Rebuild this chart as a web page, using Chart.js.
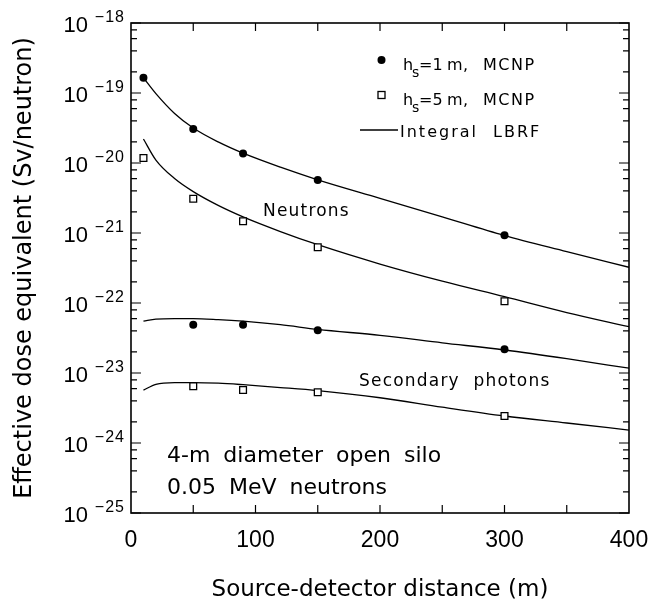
<!DOCTYPE html>
<html><head><meta charset="utf-8">
<script src="https://cdn.jsdelivr.net/npm/chart.js@4.4.0/dist/chart.umd.min.js"></script>
<style>html,body{margin:0;padding:0;background:#fff;}</style>
</head><body>
<canvas id="c" width="648" height="605"></canvas>
<script>
// ---- data ----
const mcnpDistances   = [10, 50, 90, 150, 300];
const neutronH1MCNP   = [1.65e-19, 3.06e-20, 1.37e-20, 5.7e-21, 9.3e-22];
const neutronH5MCNP   = [1.18e-20, 3.09e-21, 1.47e-21, 6.25e-22, 1.06e-22];
const photonDistances = [50, 90, 150, 300];
const photonH1MCNP    = [4.9e-23, 4.9e-23, 4.07e-23, 2.18e-23];
const photonH5MCNP    = [6.45e-24, 5.72e-24, 5.3e-24, 2.43e-24];

const curveDistances  = [10, 20, 35, 50, 70, 90, 120, 150, 200, 250, 300, 350, 400];
const neutronH1LBRF   = [1.65e-19, 9.8e-20, 5.1e-20, 3.16e-20, 2.0e-20, 1.38e-20, 8.7e-21, 5.75e-21, 3.13e-21, 1.7e-21, 9.2e-22, 5.43e-22, 3.24e-22];
const neutronH5LBRF   = [2.2e-20, 1.1e-20, 6.0e-21, 3.9e-21, 2.48e-21, 1.7e-21, 1.05e-21, 6.8e-22, 3.6e-22, 2.05e-22, 1.23e-22, 7.3e-23, 4.58e-23];
const photonH1LBRF    = [5.5e-23, 5.9e-23, 6.0e-23, 6.0e-23, 5.8e-23, 5.5e-23, 4.9e-23, 4.2e-23, 3.45e-23, 2.7e-23, 2.13e-23, 1.6e-23, 1.17e-23];
const photonH5LBRF    = [5.7e-24, 6.9e-24, 7.3e-24, 7.3e-24, 7.15e-24, 6.8e-24, 6.2e-24, 5.6e-24, 4.43e-24, 3.25e-24, 2.43e-24, 1.93e-24, 1.53e-24];

const xTickValues     = [0, 100, 200, 300, 400];
const xMinorValues    = [50, 100, 150, 200, 250, 300, 350];
const yTickExponents  = [-25, -24, -23, -22, -21, -20, -19, -18];
const yMinorMantissas = [2, 4, 6, 8];

const legendRows = [
  {sub: 's', pre: 'h', eq: '=1', unit: 'm,', src: 'MCNP'},
  {sub: 's', pre: 'h', eq: '=5', unit: 'm,', src: 'MCNP'}
];
const legendLineLabel = ['Integral', 'LBRF'];
// ---------------------------------------

const toXY = (xs, ys) => xs.map((x, i) => ({x: x, y: ys[i]}));

function pointSet(label, xs, ys, filled) {
  return {
    label: label, data: toXY(xs, ys), showLine: false,
    pointStyle: filled ? 'circle' : 'rect',
    pointRadius: filled ? 4 : 4.8,
    pointHoverRadius: filled ? 4 : 4.8,
    pointBackgroundColor: filled ? '#000' : '#fff',
    pointBorderColor: '#000',
    pointBorderWidth: filled ? 0 : 1.3,
    order: 1
  };
}
function curveSet(label, ys) {
  return {
    label: label, data: toXY(curveDistances, ys), showLine: true,
    pointRadius: 0, borderColor: '#000', borderWidth: 1.3,
    cubicInterpolationMode: 'monotone', fill: false, order: 2
  };
}

function txt(ctx, s, x, y, font, opt) {
  opt = opt || {};
  ctx.save();
  ctx.font = font;
  ctx.fillStyle = '#000';
  ctx.textAlign = opt.align || 'left';
  ctx.textBaseline = 'alphabetic';
  if ('letterSpacing' in ctx) ctx.letterSpacing = (opt.ls || 0) + 'px';
  if ('wordSpacing' in ctx) ctx.wordSpacing = (opt.ws || 0) + 'px';
  ctx.fillText(s, x, y);
  ctx.restore();
}

const decor = {
  id: 'decor',
  afterDraw(chart) {
    const ctx = chart.ctx;
    const xs = chart.scales.x, ys = chart.scales.y;
    const a = chart.chartArea;
    ctx.save();
    ctx.strokeStyle = '#000';
    ctx.lineWidth = 1.6;
    ctx.strokeRect(a.left, a.top, a.right - a.left, a.bottom - a.top);
    ctx.lineWidth = 1.2;
    ctx.beginPath();
    xMinorValues.forEach(v => {
      const p = xs.getPixelForValue(v);
      ctx.moveTo(p, a.bottom); ctx.lineTo(p, a.bottom - 8);
      ctx.moveTo(p, a.top); ctx.lineTo(p, a.top + 8);
    });
    yTickExponents.forEach(e => {
      [1].concat(yMinorMantissas).forEach(m => {
        const v = m * Math.pow(10, e);
        if (v > 1.0001e-18) return;
        const p = ys.getPixelForValue(v);
        const len = m === 1 ? 10 : 6;
        ctx.moveTo(a.left, p); ctx.lineTo(a.left + len, p);
        ctx.moveTo(a.right, p); ctx.lineTo(a.right - len, p);
      });
    });
    ctx.stroke();
    ctx.restore();

    // y tick labels 10^e
    yTickExponents.forEach(e => {
      const p = ys.getPixelForValue(Math.pow(10, e));
      txt(ctx, '\u2212' + Math.abs(e), a.left - 6, p - 1, '16px "Liberation Sans"', {align: 'right', ls: 1});
      txt(ctx, '10', a.left - 43, p + 9, '22px "Liberation Sans"', {align: 'right'});
    });

    // annotations
    txt(ctx, 'Neutrons', 263, 216, '17px "DejaVu Sans"', {ls: 1.2});
    txt(ctx, 'Secondary photons', 359, 386, '17px "DejaVu Sans"', {ls: 1.2, ws: 7});
    txt(ctx, '4-m diameter open silo', 167, 462, '22px "DejaVu Sans"', {ws: 6});
    txt(ctx, '0.05 MeV neutrons', 167, 494, '22px "DejaVu Sans"', {ws: 6});

    // legend
    const lf = '16px "DejaVu Sans"';
    const baselines = [70, 105];
    legendRows.forEach((r, i) => {
      const b = baselines[i];
      txt(ctx, r.pre, 403, b, lf);
      txt(ctx, r.sub, 412, b + 7, '14px "DejaVu Sans"');
      txt(ctx, r.eq, 419, b, lf);
      txt(ctx, r.unit, 447, b, lf, {ls: 0.5});
      txt(ctx, r.src, 483, b, lf, {ls: 1.5});
    });
    ctx.save();
    ctx.fillStyle = '#000';
    ctx.beginPath(); ctx.arc(381.5, 60, 4, 0, Math.PI * 2); ctx.fill();
    ctx.strokeStyle = '#000'; ctx.lineWidth = 1.3;
    ctx.strokeRect(378, 91.5, 7, 7);
    ctx.lineWidth = 1.3;
    ctx.beginPath(); ctx.moveTo(360, 130); ctx.lineTo(398, 130); ctx.stroke();
    ctx.restore();
    txt(ctx, legendLineLabel[0], 400, 137, lf, {ls: 2});
    txt(ctx, legendLineLabel[1], 493, 137, lf, {ls: 2});
  }
};

new Chart(document.getElementById('c'), {
  type: 'scatter',
  data: {
    datasets: [
      pointSet('h_s=1 m, MCNP neutrons', mcnpDistances, neutronH1MCNP, true),
      pointSet('h_s=5 m, MCNP neutrons', mcnpDistances, neutronH5MCNP, false),
      pointSet('h_s=1 m, MCNP photons', photonDistances, photonH1MCNP, true),
      pointSet('h_s=5 m, MCNP photons', photonDistances, photonH5MCNP, false),
      curveSet('Integral LBRF h_s=1 m neutrons', neutronH1LBRF),
      curveSet('Integral LBRF h_s=5 m neutrons', neutronH5LBRF),
      curveSet('Integral LBRF h_s=1 m photons', photonH1LBRF),
      curveSet('Integral LBRF h_s=5 m photons', photonH5LBRF)
    ]
  },
  options: {
    responsive: false,
    animation: false,
    devicePixelRatio: 1,
    layout: {padding: {left: 0, right: 19, top: 23, bottom: 0}},
    plugins: {legend: {display: false}, tooltip: {enabled: false}},
    scales: {
      x: {
        type: 'linear', position: 'bottom', min: 0, max: 400,
        afterFit: s => { s.height = 92; s.paddingLeft = 0; s.paddingRight = 0; },
        afterBuildTicks: s => { s.ticks = xTickValues.map(v => ({value: v})); },
        ticks: {font: {family: 'Liberation Sans', size: 23}, color: '#000', padding: 14, maxRotation: 0, autoSkip: false},
        grid: {display: false, drawTicks: false},
        border: {display: false},
        title: {display: true, text: 'Source-detector distance (m)', color: '#000',
                font: {family: 'DejaVu Sans', size: 23}, padding: {top: 0, bottom: 1}}
      },
      y: {
        type: 'logarithmic', position: 'left', min: 1e-25, max: 1e-18,
        afterFit: s => { s.width = 131; s.paddingTop = 0; s.paddingBottom = 0; },
        ticks: {display: false},
        grid: {display: false, drawTicks: false},
        border: {display: false},
        title: {display: true, text: 'Effective dose equivalent (Sv/neutron)', color: '#000',
                font: {family: 'DejaVu Sans', size: 24}, padding: {top: 10, bottom: 0}}
      }
    }
  },
  plugins: [decor]
});
</script>
</body></html>
